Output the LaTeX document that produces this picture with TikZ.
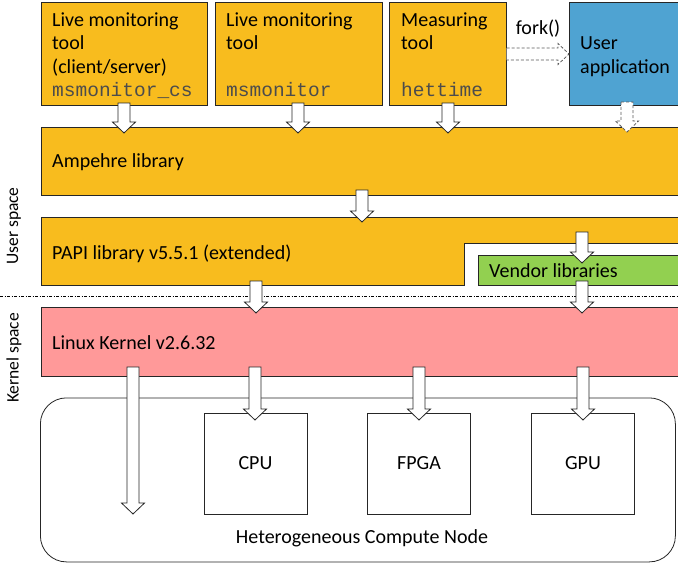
\documentclass[tikz,border=0pt]{standalone}
\usepackage{fontspec}
\setmainfont{Carlito}
\setmonofont{Liberation Mono}
\definecolor{orng}{RGB}{248,188,30}
\definecolor{appblue}{RGB}{79,163,210}
\definecolor{kpink}{RGB}{255,153,153}
\definecolor{vgreen}{RGB}{146,208,80}
\newcommand\blkarrow[4][]{\draw[barrow,#1] (#2-6,#3) -- (#2+6,#3) -- (#2+6,#4-11) -- (#2+11.5,#4-11) -- (#2,#4) -- (#2-11.5,#4-11) -- (#2-6,#4-11) -- cycle;}
\begin{document}
\begin{tikzpicture}[x=1pt,y=-1pt,
  box/.style={draw=black!85, line width=0.8pt, anchor=north west, inner sep=0pt},
  lbl/.style={anchor=base west, inner sep=0pt, font=\fontsize{20}{24}\selectfont},
  mono/.style={anchor=base west, inner sep=0pt, font=\fontsize{19.5}{24}\selectfont\ttfamily, text=black!70},
  small/.style={inner sep=0pt, font=\fontsize{20}{24}\selectfont},
  side/.style={inner sep=0pt, rotate=90, font=\fontsize{17.5}{21}\selectfont},
  barrow/.style={draw=black!85, fill=white, line width=0.8pt, line join=miter},
  dsh/.style={draw=black!65, line width=0.8pt, dash pattern=on 3pt off 2pt},
  dsharrow/.style={barrow, draw=black!65, dash pattern=on 3pt off 2pt},
  hw/.style={draw=black!85, line width=0.8pt, minimum width=103pt, minimum height=101pt, inner sep=0pt, font=\fontsize{20}{24}\selectfont}
]
\clip (0,0) rectangle (678,563);
\fill[white] (0,0) rectangle (678,563);

% top tool boxes
\node[box, fill=orng, minimum width=166pt, minimum height=103pt] (t1) at (41,2) {};
\node[box, fill=orng, minimum width=167pt, minimum height=103pt] (t2) at (215,2) {};
\node[box, fill=orng, minimum width=117pt, minimum height=103pt] (t3) at (389,2) {};
\node[box, fill=appblue, minimum width=130pt, minimum height=103pt] (app) at (569,2) {};

\node[lbl] (t1a) at (52,26) {Live monitoring};
\node[lbl] (t1b) at (52,49.5) {tool};
\node[lbl] (t1c) at (52,73) {(client/server)};
\node[mono] (t1d) at (52,96) {msmonitor\_cs};

\node[lbl] (t2a) at (226,26) {Live monitoring};
\node[lbl] (t2b) at (226,49.5) {tool};
\node[mono] (t2d) at (226,96) {msmonitor};

\node[lbl] (t3a) at (401,26) {Measuring};
\node[lbl] (t3b) at (401,49.5) {tool};
\node[mono] (t3d) at (401,96) {hettime};

\node[lbl] (appa) at (580,49.5) {User};
\node[lbl] (appb) at (580,73) {application};

% libraries
\node[box, fill=orng, minimum width=660pt, minimum height=68pt] (amp) at (41,127) {};
\node[lbl] (ampt) at (52,167.5) {Ampehre library};

\draw[draw=black!85, line width=0.8pt, fill=orng] (41,217) -- (700,217) -- (700,243) -- (464,243) -- (464,285) -- (41,285) -- cycle;
\coordinate (papi) at (41,217);
\node[lbl] (papit) at (52,259) {PAPI library v5.5.1 (extended)};

\node[box, fill=vgreen, minimum width=222pt, minimum height=30pt] (vend) at (478,255) {};
\node[lbl] (vendt) at (489,277) {Vendor libraries};

% separator
\draw[line width=0.6pt, dash pattern=on 3pt off 1.5pt on 1pt off 1.5pt] (0,296) -- (678,296);

% kernel
\node[box, fill=kpink, minimum width=660pt, minimum height=69pt] (kern) at (41,307) {};
\node[lbl] (kernt) at (52,349) {Linux Kernel v2.6.32};

% side labels
\node[side] (us) at (14,226) {User space};
\node[side] (ks) at (14,358) {Kernel space};

% compute node
\node[draw=black!85, line width=0.8pt, rounded corners=26pt, anchor=north west, minimum width=635pt, minimum height=164pt, inner sep=0pt] (hcn) at (40,397.5) {};
\node[small, anchor=base] (hcnt) at (362,543) {Heterogeneous Compute Node};
\node[hw] (cpu) at (255.5,463.5) {CPU};
\node[hw] (fpga) at (419,463.5) {FPGA};
\node[hw] (gpu) at (583,463.5) {GPU};

% fork arrow
\fill[white] (506.5,48) -- (558,48) -- (558,43.5) -- (569,54) -- (558,64.5) -- (558,60) -- (506.5,60) -- cycle;
\draw[dsh] (506.5,48) -- (558,48) -- (558,43.5) -- (569,54) -- (558,64.5) -- (558,60) -- (506.5,60);
\node[small, anchor=base] (fork) at (538,34) {fork()};

% block arrows
\blkarrow{124}{103}{133}
\blkarrow{298}{103}{133}
\blkarrow{448}{103}{133}
\blkarrow[dsharrow]{627}{102}{132}
\blkarrow{362}{190}{222}
\blkarrow{582}{232}{263}
\blkarrow{256}{281}{313}
\blkarrow{582}{281}{313}
\blkarrow{133}{367}{514}
\blkarrow{255}{367}{420}
\blkarrow{419}{367}{420}
\blkarrow{583}{367}{420}
\end{tikzpicture}
\end{document}
